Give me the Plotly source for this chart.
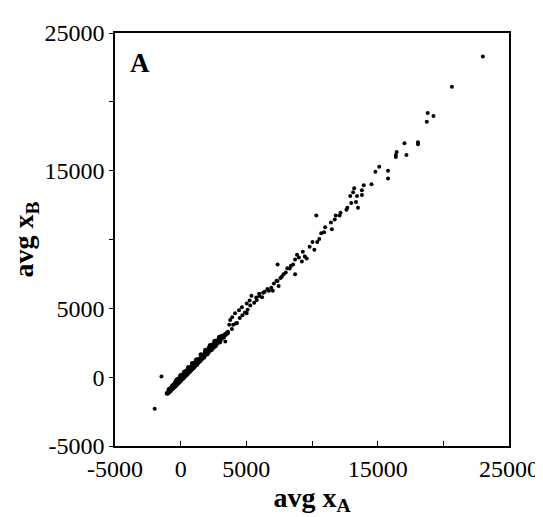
import plotly.graph_objects as go

# Dense lower part of the cloud
dense_x = [-1020, -900, -850, -780, -700, -650, -600, -560, -500, -450,
           -420, -380, -330, -300, -260, -220, -180, -150, -120, -80,
           -50, -20, 10, 40, 70, 100, 130, 160, 200, 240,
           270, 300, 340, 380, 420, 460, 500, 540, 580, 620,
           670, 720, 760, 800, 850, 900, 950, 1000, 1060, 1120,
           1180, 1240, 1300, 1370, 1440, 1500, 1580, 1650, 1720, 1800,
           1880, 1960, 2040, 2120, 2200, 2300, 2400, 2500, 2600, 2720,
           2850, 2980, 3100, 3250, 3400, 3550]
dense_y = [-1170, -1080, -980, -960, -850, -830, -760, -700, -700, -610,
           -640, -530, -530, -450, -460, -380, -400, -300, -330, -240,
           -250, -170, -200, -120, -140, -50, -90, 0, -20, 80,
           40, 150, 120, 230, 180, 300, 260, 370, 340, 430,
           430, 530, 520, 600, 610, 700, 680, 800, 820, 900,
           920, 1000, 1060, 1150, 1180, 1300, 1320, 1440, 1470, 1560,
           1640, 1700, 1800, 1850, 1960, 2030, 2150, 2200, 2350, 2420,
           2600, 2650, 2820, 2920, 3100, 3200]

# Second layer of the dense band (thickens it)
band_x = [-880, -760, -620, -520, -400, -280, -170, -60, 50, 150,
          260, 360, 470, 560, 660, 780, 880, 980, 1100, 1220,
          1340, 1460, 1600, 1740, 1880, 2020, 2180, 2340, 2480, 2640,
          2800, 2960, 3150, -300, 0, 300, 600, 900, 1200, 1550,
          1900, 2250, 2600, 2950]
band_y = [-900, -820, -620, -560, -380, -350, -130, -170, 120, 40,
          290, 210, 470, 370, 640, 580, 830, 760, 1050, 960,
          1290, 1190, 1560, 1450, 1800, 1700, 2130, 2010, 2380, 2280,
          2650, 2560, 2980, -200, 100, 380, 700, 1000, 1250, 1620,
          1950, 2300, 2600, 2900]

# Middle band
mid_x = [3400, 3600, 3700, 3770, 3900, 3920, 4000, 4140, 4200, 4290,
         4440, 4500, 4660, 4700, 4900, 5020, 5030, 5100, 5250, 5300,
         5390, 5600, 5760, 5800, 5980, 6000, 6200, 6280, 6400, 6600,
         6720, 6900, 7020, 7100, 7300, 7380, 7380, 7460, 7600, 7700,
         7830, 8000, 8120, 8300, 8400, 8560, 8710, 8710, 8860, 9000,
         9230, 9300, 9450]
mid_y = [2590, 3300, 3800, 4150, 3500, 4360, 3800, 4650, 3900, 3940,
         4860, 4300, 5070, 4500, 4700, 4650, 5360, 4900, 5570, 5200,
         5920, 5400, 5780, 5600, 6060, 5900, 5800, 6140, 6200, 6400,
         6280, 6500, 6280, 6800, 7000, 6990, 8190, 6630, 7200, 7300,
         7480, 7600, 7910, 7900, 8100, 8190, 7480, 8550, 8900, 8700,
         8400, 9110, 8760]

# Upper sparse part
high_x = [9600, 9820, 10040, 10180, 10330, 10400, 10550, 10700, 10920, 11000,
          11440, 11510, 11730, 11810, 12100, 12170, 12620, 12690, 12910, 12990,
          13130, 13210, 13350, 13430, 13500, 13800, 13800, 13940, 14530, 14830,
          15120, 15790, 15790, 16380, 16380, 16450, 17040, 17190, 18070, 18070,
          18740, 18810, 19250, 20650, 23010]
high_y = [8620, 9470, 9820, 9260, 11740, 9820, 10040, 10460, 10530, 10890,
          11240, 10750, 11450, 11740, 11740, 11950, 12160, 12310, 13160, 12660,
          13440, 13720, 12730, 13160, 12310, 13580, 13230, 13940, 14010, 14930,
          15280, 14430, 15000, 16000, 16140, 16350, 16990, 16140, 17060, 16920,
          18550, 19190, 18970, 21100, 23300]

# Outliers
out_x = [-1460, -1980]
out_y = [40, -2300]

tick_vals = [-5000, 0, 5000, 15000, 25000]
tick_text = ["-5000", "0", "5000", "15000", "25000"]
minor_vals = [10000, 20000]

FONT = "Liberation Serif"

fig = go.Figure()
# dense band drawn with slightly larger dots so it reads as a thick line
fig.add_trace(go.Scatter(
    x=dense_x + band_x, y=dense_y + band_y, mode="markers",
    marker=dict(color="black", size=5, line=dict(width=0)),
    showlegend=False,
))
fig.add_trace(go.Scatter(
    x=mid_x + high_x + out_x, y=mid_y + high_y + out_y, mode="markers",
    marker=dict(color="black", size=4, line=dict(width=0)),
    showlegend=False,
))

fig.update_layout(
    width=543, height=517,
    margin=dict(l=107, r=30, t=17, b=79),
    paper_bgcolor="white", plot_bgcolor="white",
    font=dict(family=FONT, color="black", size=24),
)
fig.update_xaxes(
    range=[-5000, 25000], tickmode="array", tickvals=tick_vals, ticktext=tick_text,
    showgrid=False, zeroline=False, showline=True, mirror=True,
    linecolor="black", linewidth=1.5,
    ticks="inside", ticklen=5, tickcolor="black",
    minor=dict(tickmode="array", tickvals=minor_vals, ticks="inside", ticklen=5,
               tickcolor="black", showgrid=False),
    tickfont=dict(family=FONT, size=24),
    title=dict(text="<b>avg x<sub>A</sub></b>", font=dict(family=FONT, size=28), standoff=2),
)
fig.update_yaxes(
    range=[-5000, 25000], tickmode="array", tickvals=tick_vals, ticktext=tick_text,
    showgrid=False, zeroline=False, showline=True, mirror=True,
    linecolor="black", linewidth=1.5,
    ticks="outside", ticklen=4, tickcolor="black",
    minor=dict(tickmode="array", tickvals=minor_vals, ticks="outside", ticklen=4,
               tickcolor="black", showgrid=False),
    tickfont=dict(family=FONT, size=24),
    title=dict(text="<b>avg x<sub>B</sub></b>", font=dict(family=FONT, size=28), standoff=4),
)
fig.add_annotation(
    x=0.064, y=0.928, xref="paper", yref="paper",
    text="<b>A</b>", showarrow=False,
    font=dict(family=FONT, size=27, color="black"),
    xanchor="center", yanchor="middle",
)

fig.write_html("out.html")
